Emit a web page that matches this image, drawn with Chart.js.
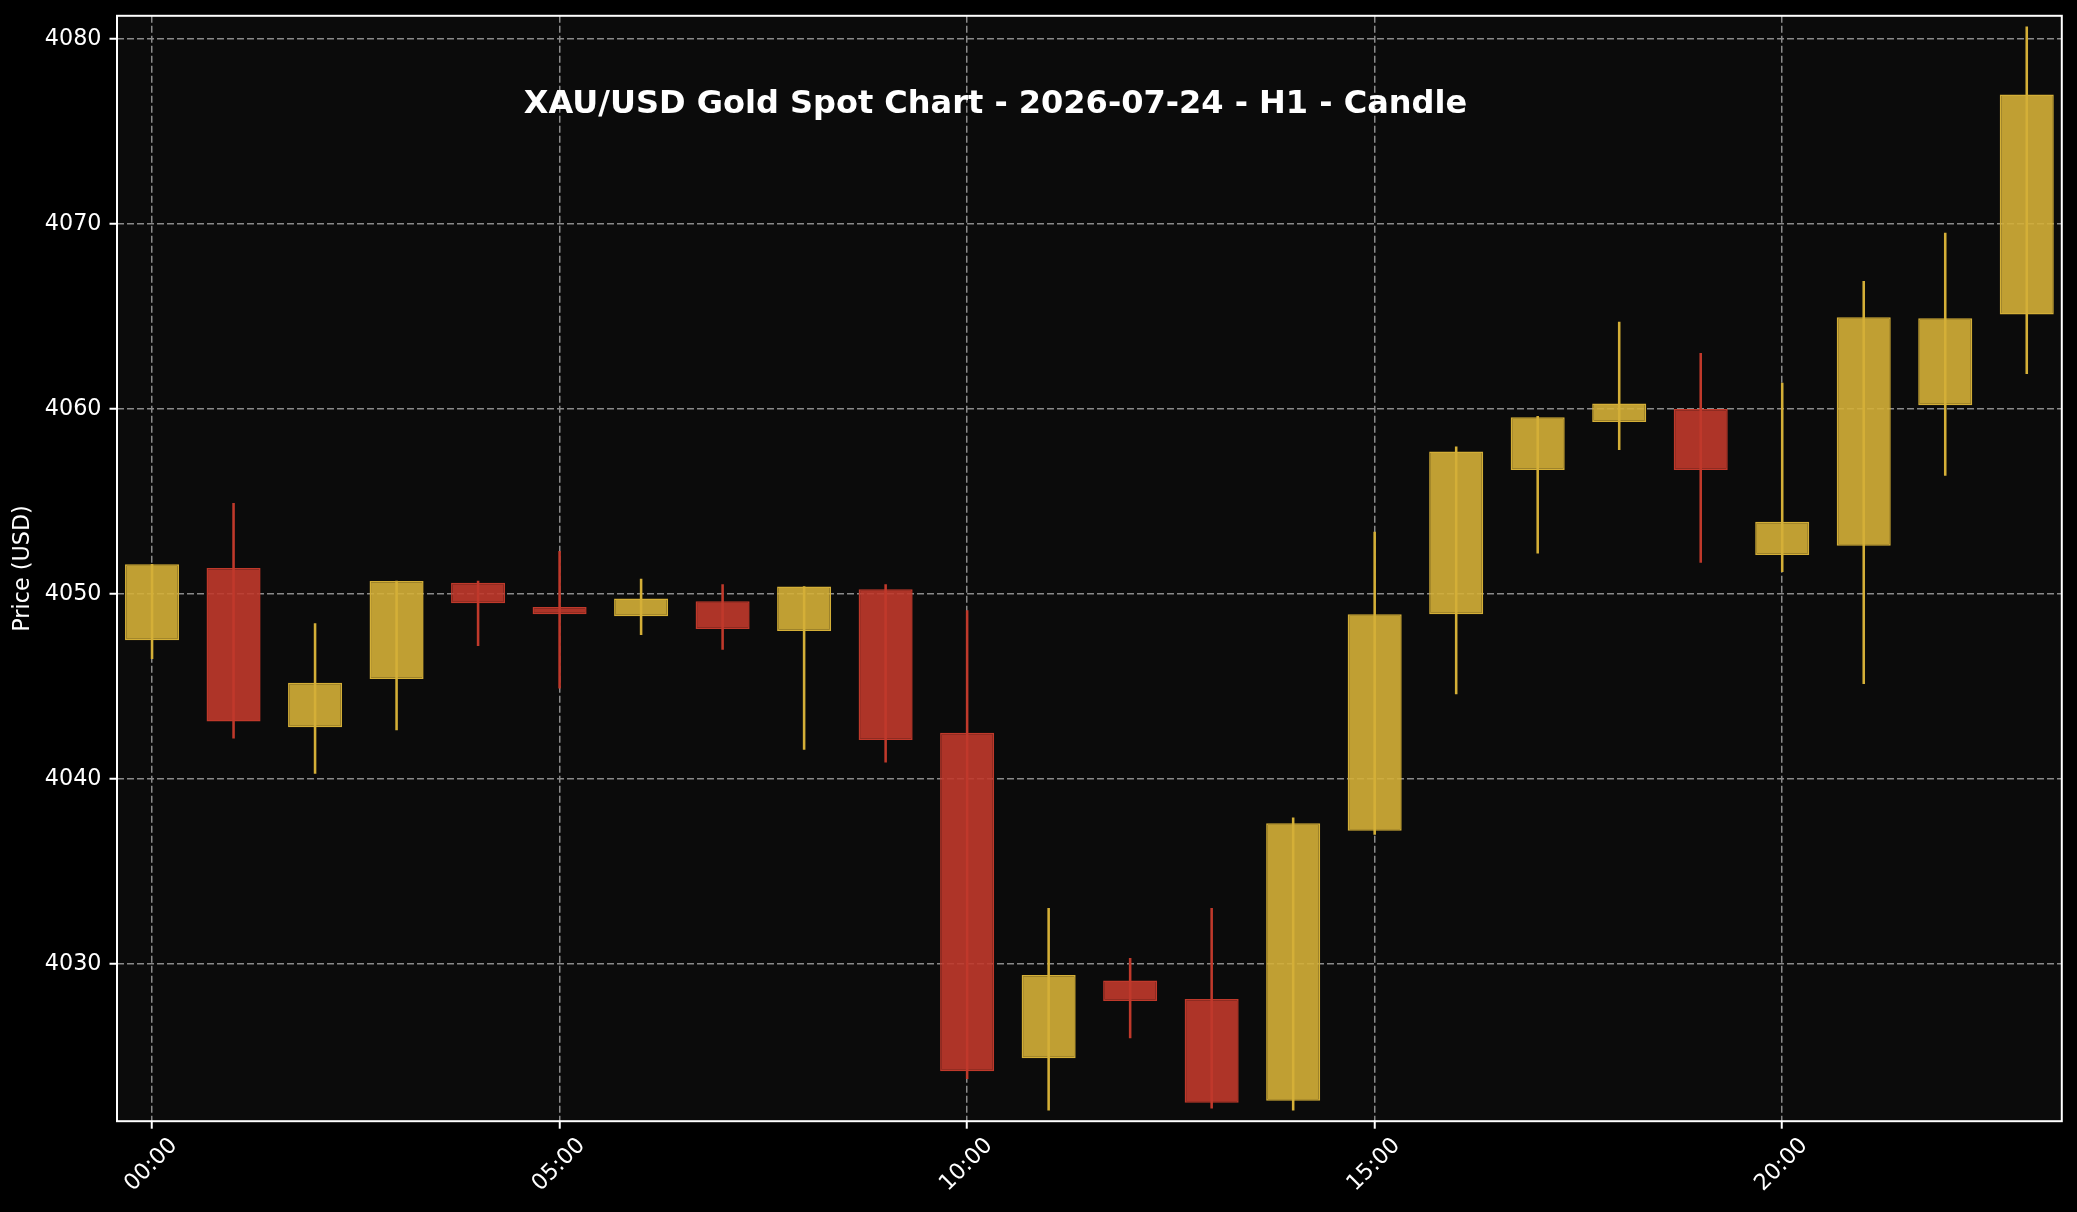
<!DOCTYPE html>
<html>
<head>
<meta charset="utf-8">
<script src="https://cdn.jsdelivr.net/npm/chart.js@4.4.1/dist/chart.umd.min.js"></script>
<style>
  html, body { margin: 0; padding: 0; background: #000; }
  #wrap { width: 2077px; height: 1212px; position: relative; }
  canvas { display: block; }
</style>
</head>
<body>
<div id="wrap"><canvas id="chart" width="2077" height="1212"></canvas></div>
<script>
// ---- Data ----
const hours = ["00:00","01:00","02:00","03:00","04:00","05:00","06:00","07:00","08:00","09:00","10:00","11:00",
               "12:00","13:00","14:00","15:00","16:00","17:00","18:00","19:00","20:00","21:00","22:00","23:00"];
const openP  = [4047.5, 4051.4, 4042.8, 4045.4, 4050.6, 4049.3, 4048.8, 4049.6, 4048.0, 4050.25, 4042.5, 4024.9,
                4029.1, 4028.1, 4022.6, 4037.2, 4048.9, 4056.7, 4059.3, 4060.0, 4052.1, 4052.6, 4060.2, 4065.1];
const highP  = [4051.6, 4054.9, 4048.4, 4050.7, 4050.7, 4052.3, 4050.8, 4050.5, 4050.4, 4050.5, 4049.1, 4033.0,
                4030.3, 4033.0, 4037.9, 4053.35, 4057.95, 4059.6, 4064.7, 4063.0, 4061.4, 4066.9, 4069.5, 4080.65];
const lowP   = [4046.5, 4042.2, 4040.3, 4042.65, 4047.2, 4044.9, 4047.8, 4047.0, 4041.6, 4040.9, 4023.8, 4022.1,
                4026.0, 4022.2, 4022.1, 4037.0, 4044.6, 4052.2, 4057.8, 4051.7, 4051.2, 4045.15, 4056.4, 4061.9];
const closeP = [4051.6, 4043.1, 4045.2, 4050.7, 4049.5, 4048.9, 4049.75, 4048.1, 4050.4, 4042.1, 4024.2, 4029.4,
                4028.0, 4022.5, 4037.6, 4048.9, 4057.7, 4059.55, 4060.3, 4056.7, 4053.9, 4064.95, 4064.9, 4077.0];
const titleText = "XAU/USD Gold Spot Chart - 2026-07-24 - H1 - Candle";
const yAxisLabel = "Price (USD)";

// ---- Styles ----
const UP = '#D4AF37', DOWN = '#C0392B';
const UP_FILL = 'rgba(212,175,55,0.9)', DOWN_FILL = 'rgba(192,57,43,0.9)';
const FONT = "'DejaVu Sans', sans-serif";

const isUp = i => closeP[i] >= openP[i];
const bodies = hours.map((h, i) => ({ x: i, y: [openP[i], closeP[i]] }));
const wicks  = hours.map((h, i) => ({ x: i, y: [lowP[i], highP[i]] }));

const bgPlugin = {
  id: 'bg',
  beforeDraw(chart) {
    const { ctx, chartArea: a } = chart;
    ctx.save();
    ctx.fillStyle = '#000';
    ctx.fillRect(0, 0, chart.width, chart.height);
    ctx.fillStyle = '#0b0b0b';
    ctx.fillRect(a.left, a.top, a.right - a.left, a.bottom - a.top);
    ctx.restore();
  },
  afterDraw(chart) {
    const { ctx, chartArea: a } = chart;
    ctx.save();
    ctx.strokeStyle = '#ffffff';
    ctx.lineWidth = 2;
    ctx.strokeRect(a.left, a.top, a.right - a.left, a.bottom - a.top);
    ctx.fillStyle = '#ffffff';
    ctx.font = "bold 32px " + FONT;
    ctx.textAlign = 'center';
    ctx.textBaseline = 'alphabetic';
    ctx.fillText(titleText, a.left + 0.4517 * (a.right - a.left), 112.7);
    ctx.restore();
  }
};

const gridCommon = { color: '#8a8a8a', lineWidth: 1.5, tickColor: '#ffffff', tickLength: 7.5, tickWidth: 2, offset: false };

new Chart(document.getElementById('chart').getContext('2d'), {
  type: 'bar',
  data: {
    datasets: [
      {
        label: 'Body',
        data: bodies,
        backgroundColor: c => isUp(c.dataIndex) ? UP_FILL : DOWN_FILL,
        borderColor: c => isUp(c.dataIndex) ? UP : DOWN,
        borderWidth: 1.5,
        borderSkipped: false,
        barPercentage: 0.663,
        categoryPercentage: 1,
        grouped: false,
        order: 0
      },
      {
        label: 'Wick',
        data: wicks,
        backgroundColor: c => isUp(c.dataIndex) ? UP : DOWN,
        borderWidth: 0,
        barThickness: 1.9,
        grouped: false,
        order: 1
      }
    ]
  },
  options: {
    responsive: false,
    animation: false,
    devicePixelRatio: 1,
    layout: { padding: { left: 0, right: 15.2, top: 15.8, bottom: 0 } },
    plugins: { legend: { display: false }, tooltip: { enabled: false }, title: { display: false } },
    scales: {
      x: {
        type: 'linear',
        min: -0.43,
        max: 23.43,
        offset: false,
        grid: gridCommon,
        border: { display: false, dash: [7, 3] },
        ticks: {
          stepSize: 5,
          includeBounds: false,
          autoSkip: false,
          maxRotation: 45,
          minRotation: 45,
          labelOffset: 22,
          padding: 4,
          color: '#ffffff',
          font: { family: FONT, size: 22.3 },
          callback: v => hours[v]
        },
        afterFit: s => { s.height = 90.8; s.paddingLeft = 0; s.paddingRight = 0; }
      },
      y: {
        min: 4021.5,
        max: 4081.25,
        grid: gridCommon,
        border: { display: false, dash: [7, 3] },
        ticks: {
          stepSize: 10,
          includeBounds: false,
          padding: 8,
          color: '#ffffff',
          font: { family: FONT, size: 22.3 },
          callback: v => String(v)
        },
        title: {
          display: true,
          text: yAxisLabel,
          color: '#ffffff',
          font: { family: FONT, size: 22.3 },
          padding: { top: 10, bottom: 0 }
        },
        afterFit: s => { s.width = 117; s.paddingTop = 0; s.paddingBottom = 0; }
      }
    }
  },
  plugins: [bgPlugin]
});
</script>
</body>
</html>
